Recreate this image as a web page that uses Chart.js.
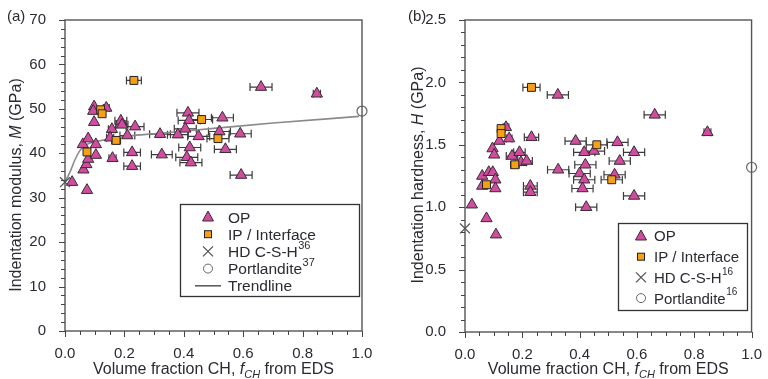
<!DOCTYPE html>
<html>
<head>
<meta charset="utf-8">
<script src="https://cdn.jsdelivr.net/npm/chart.js@4.4.1/dist/chart.umd.min.js"></script>
<style>
  html, body { margin: 0; padding: 0; background: #fff; }
  #wrap { position: relative; width: 768px; height: 379px; overflow: hidden; }
  .panel { position: absolute; top: 0; width: 384px; height: 379px; }
  #pa { left: 0; }
  #pb { left: 384px; }
</style>
</head>
<body>
<div id="wrap">
  <div class="panel" id="pa"><canvas id="chartA" width="384" height="379"></canvas></div>
  <div class="panel" id="pb"><canvas id="chartB" width="384" height="379"></canvas></div>
</div>
<script>
// ---- panel (a): indentation modulus M (GPa) vs volume fraction CH ----
var opFracA = [0.024, 0.074, 0.062, 0.072, 0.078, 0.104, 0.060, 0.078, 0.104, 0.098, 0.098, 0.095, 0.139,
               0.158, 0.152, 0.188, 0.192, 0.236, 0.210, 0.160, 0.226, 0.226, 0.320, 0.326, 0.380, 0.414,
               0.418, 0.405, 0.450, 0.420, 0.410, 0.424, 0.530, 0.520, 0.590, 0.540, 0.593, 0.660, 0.848];
var opModA  = [33.5, 31.7, 36.3, 37.5, 38.7, 39.6, 42.0, 43.3, 42.0, 47.0, 50.5, 49.5, 50.2,
               45.4, 43.5, 47.3, 46.4, 46.0, 44.0, 38.9, 40.2, 37.1, 44.3, 39.7, 44.2, 49.1,
               47.4, 45.5, 43.8, 41.3, 39.1, 37.9, 48.0, 44.9, 44.4, 40.9, 35.1, 54.9, 53.4];
var opErrA  = [0, 0, 0, 0, 0, 0, 0, 0, 0, 0, 0, 0, 0.010,
               0.012, 0.012, 0.020, 0.020, 0.030, 0.025, 0.012, 0.028, 0.028, 0.035, 0.035, 0.035, 0.037,
               0.037, 0.037, 0.037, 0.037, 0.037, 0.037, 0.037, 0.037, 0.037, 0.037, 0.037, 0.037, 0.012];

var ipFracA = [0.074, 0.120, 0.125, 0.172, 0.232, 0.460, 0.515];
var ipModA  = [40.3, 49.8, 48.9, 42.9, 56.4, 47.6, 43.3];
var ipErrA  = [0, 0, 0, 0.015, 0.025, 0.037, 0.037];

var hdFracA = [0.0];
var hdModA  = [33.5];
var chFracA = [1.0];
var chModA  = [49.5];

var trendFrac = [0.0, 0.017, 0.034, 0.05, 0.074, 0.11, 0.19, 0.30, 0.50, 0.70, 0.99];
var trendMod  = [33.5, 35.8, 38.6, 40.6, 42.0, 42.7, 43.7, 44.4, 45.6, 46.8, 48.3];

// ---- panel (b): indentation hardness H (GPa) vs volume fraction CH ----
var opFracB = [0.024, 0.075, 0.108, 0.060, 0.083, 0.097, 0.106, 0.060, 0.106, 0.096, 0.102, 0.120, 0.143,
               0.154, 0.232, 0.164, 0.190, 0.195, 0.215, 0.228, 0.228, 0.325, 0.324, 0.386, 0.450, 0.416,
               0.532, 0.590, 0.420, 0.540, 0.400, 0.416, 0.522, 0.410, 0.590, 0.423, 0.662, 0.846];
var opHardB = [1.02, 0.91, 0.78, 1.25, 1.28, 1.28, 1.22, 1.17, 1.15, 1.47, 1.42, 1.53, 1.64,
               1.55, 1.56, 1.41, 1.44, 1.36, 1.37, 1.17, 1.12, 1.30, 1.90, 1.53, 1.45, 1.44,
               1.52, 1.44, 1.34, 1.37, 1.27, 1.22, 1.26, 1.15, 1.09, 1.00, 1.74, 1.60];
var opErrB  = [0, 0, 0, 0, 0, 0, 0, 0, 0, 0, 0, 0, 0.010,
               0.010, 0.025, 0.020, 0.020, 0.020, 0.020, 0.024, 0.024, 0.037, 0.037, 0.037, 0.037, 0.037,
               0.037, 0.037, 0.037, 0.037, 0.037, 0.037, 0.037, 0.037, 0.037, 0.037, 0.037, 0.012];

var ipFracB = [0.075, 0.126, 0.126, 0.174, 0.232, 0.460, 0.512];
var ipHardB = [1.18, 1.63, 1.59, 1.34, 1.96, 1.50, 1.22];
var ipErrB  = [0, 0, 0, 0.015, 0.030, 0.037, 0.037];

var hdFracB = [0.0];
var hdHardB = [0.83];
var chFracB = [1.0];
var chHardB = [1.32];

var xTicks = [0.0, 0.2, 0.4, 0.6, 0.8, 1.0];

var TXT = '#2a2a33';
var FONT = '"Liberation Sans", Arial, sans-serif';
var PINK = '#d04c9e';
var ORANGE = '#f5a016';

function pts(xs, ys) {
    return xs.map(function (v, i) { return { x: v, y: ys[i] }; });
}

// horizontal error bars, drawn under the markers
var errorBars = {
    id: 'errorBars',
    beforeDatasetsDraw: function (chart) {
        var ctx = chart.ctx, x = chart.scales.x, y = chart.scales.y;
        ctx.save();
        ctx.strokeStyle = '#3c3c3c';
        ctx.lineWidth = 1.2;
        chart.data.datasets.forEach(function (ds) {
            if (!ds.xErr) return;
            ds.data.forEach(function (p, i) {
                var e = ds.xErr[i];
                if (!e) return;
                var x0 = x.getPixelForValue(p.x - e), x1 = x.getPixelForValue(p.x + e), py = y.getPixelForValue(p.y);
                ctx.beginPath();
                ctx.moveTo(x0, py); ctx.lineTo(x1, py);
                ctx.moveTo(x0, py - 4); ctx.lineTo(x0, py + 4);
                ctx.moveTo(x1, py - 4); ctx.lineTo(x1, py + 4);
                ctx.stroke();
            });
        });
        ctx.restore();
    }
};

function drawParts(ctx, parts, x, y) {
    // parts: [text, font, dy]
    var w = 0;
    parts.forEach(function (p) { ctx.font = p[1]; w += ctx.measureText(p[0]).width; });
    var cx = x - w / 2;
    parts.forEach(function (p) {
        ctx.font = p[1];
        ctx.fillText(p[0], cx, y + (p[2] || 0));
        cx += ctx.measureText(p[0]).width;
    });
}

function drawSymbol(ctx, kind, x, y) {
    ctx.save();
    ctx.lineWidth = 1;
    if (kind === 'tri') {
        ctx.fillStyle = PINK; ctx.strokeStyle = '#3a2a35';
        ctx.beginPath();
        ctx.moveTo(x, y - 6); ctx.lineTo(x + 5.5, y + 4); ctx.lineTo(x - 5.5, y + 4); ctx.closePath();
        ctx.fill(); ctx.stroke();
    } else if (kind === 'sq') {
        ctx.fillStyle = ORANGE; ctx.strokeStyle = '#222';
        ctx.fillRect(x - 3.5, y - 3.5, 7, 7); ctx.strokeRect(x - 3.5, y - 3.5, 7, 7);
    } else if (kind === 'x') {
        ctx.strokeStyle = '#555'; ctx.lineWidth = 1.3;
        ctx.beginPath();
        ctx.moveTo(x - 5, y - 5); ctx.lineTo(x + 5, y + 5);
        ctx.moveTo(x + 5, y - 5); ctx.lineTo(x - 5, y + 5);
        ctx.stroke();
    } else if (kind === 'o') {
        ctx.strokeStyle = '#666'; ctx.fillStyle = '#fff';
        ctx.beginPath(); ctx.arc(x, y, 4.5, 0, Math.PI * 2); ctx.fill(); ctx.stroke();
    } else if (kind === 'line') {
        ctx.strokeStyle = '#555'; ctx.lineWidth = 1.5;
        ctx.beginPath(); ctx.moveTo(x - 13, y); ctx.lineTo(x + 13, y); ctx.stroke();
    }
    ctx.restore();
}

// frame, outward ticks, axis titles, panel label and legend
var decor = {
    id: 'decor',
    afterDraw: function (chart, args, o) {
        var ctx = chart.ctx, a = chart.chartArea, x = chart.scales.x, y = chart.scales.y;
        ctx.save();
        ctx.strokeStyle = '#555';
        ctx.lineWidth = 1.4;
        ctx.strokeRect(a.left, a.top, a.right - a.left, a.bottom - a.top);

        ctx.lineWidth = 1;
        ctx.strokeStyle = '#444';
        ctx.beginPath();
        var i, v, px;
        for (i = 0; i <= 20; i++) {
            v = i * 0.05;
            px = Math.round(x.getPixelForValue(v)) + 0.5;
            ctx.moveTo(px, a.bottom); ctx.lineTo(px, a.bottom + (i % 4 === 0 ? 6 : 4));
        }
        var n = Math.round(o.yMax / o.yMinor);
        for (i = 0; i <= n; i++) {
            v = i * o.yMinor;
            px = Math.round(y.getPixelForValue(v)) + 0.5;
            ctx.moveTo(a.left, px); ctx.lineTo(a.left - (i % o.yEvery === 0 ? 6 : 4), px);
        }
        ctx.stroke();

        ctx.fillStyle = TXT;
        ctx.textBaseline = 'alphabetic';
        // x title
        var cx = (a.left + a.right) / 2;
        drawParts(ctx, [
            ['Volume fraction CH, ', '16px ' + FONT],
            ['f', 'italic 16px ' + FONT],
            ['CH', 'italic 11px ' + FONT, 4],
            [' from EDS', '16px ' + FONT]
        ], cx, 374);
        // y title
        ctx.save();
        ctx.translate(o.yTitleX, o.yTitleY);
        ctx.rotate(-Math.PI / 2);
        drawParts(ctx, [
            [o.yTitle[0], '16px ' + FONT],
            [o.yTitle[1], 'italic 16px ' + FONT],
            [o.yTitle[2], '16px ' + FONT]
        ], 0, 6);
        ctx.restore();
        // panel label
        ctx.font = '15px ' + FONT;
        ctx.textAlign = 'left';
        ctx.fillText(o.label, o.labelX, 21);

        // legend
        var L = o.legend;
        ctx.strokeStyle = '#333';
        ctx.lineWidth = 1.3;
        ctx.strokeRect(L.x0 + 0.5, L.y0 + 0.5, L.x1 - L.x0, L.y1 - L.y0);
        L.items.forEach(function (it, k) {
            var yy = L.first + k * L.step;
            drawSymbol(ctx, it[0], L.symX, yy);
            ctx.fillStyle = TXT;
            ctx.font = L.size + 'px ' + FONT;
            ctx.fillText(it[1], L.txtX, yy + L.size * 0.36);
            if (it[2]) {
                var w = ctx.measureText(it[1]).width;
                ctx.font = Math.round(L.size * 0.68) + 'px ' + FONT;
                ctx.fillText(it[2], L.txtX + w + 0.5, yy - L.size * 0.18);
            }
        });
        ctx.restore();
    }
};

function makeChart(id, cfg) {
    return new Chart(document.getElementById(id), {
        type: 'scatter',
        data: {
            datasets: cfg.datasets
        },
        options: {
            responsive: false,
            animation: false,
            devicePixelRatio: 1,
            layout: { padding: { left: 0, right: cfg.padRight, top: cfg.padTop, bottom: 0 } },
            plugins: {
                legend: { display: false },
                tooltip: { enabled: false },
                decor: cfg.decor
            },
            scales: {
                x: {
                    type: 'linear', min: 0, max: 1,
                    afterBuildTicks: function (s) { s.ticks = xTicks.map(function (v) { return { value: v }; }); },
                    afterFit: function (s) { s.height = cfg.xHeight; },
                    grid: { display: false },
                    border: { display: false },
                    ticks: {
                        padding: 6, color: TXT, font: { family: FONT, size: 15 },
                        maxRotation: 0,
                        callback: function (v) { return Number(v).toFixed(1); }
                    }
                },
                y: {
                    type: 'linear', min: 0, max: cfg.yMax,
                    afterFit: function (s) { s.width = cfg.yWidth; },
                    grid: { display: false },
                    border: { display: false },
                    ticks: {
                        stepSize: cfg.yStep, padding: 11, color: TXT, font: { family: FONT, size: 15 },
                        callback: cfg.yFmt
                    }
                }
            }
        },
        plugins: [errorBars, decor]
    });
}

function panelSets(opF, opV, opE, ipF, ipV, ipE, hdF, hdV, chF, chV, trend) {
    var sets = [];
    if (trend) {
        sets.push({
            data: pts(trend[0], trend[1]), showLine: true, pointRadius: 0,
            borderColor: '#8a8a8a', borderWidth: 1.6, cubicInterpolationMode: 'monotone',
            order: 10, clip: false
        });
    }
    sets.push({
        data: pts(opF, opV), xErr: opE, pointStyle: 'triangle', pointRadius: 6.5,
        backgroundColor: PINK, borderColor: '#3a2a35', borderWidth: 1, order: 2, clip: false
    });
    sets.push({
        data: pts(ipF, ipV), xErr: ipE, pointStyle: 'rect', pointRadius: 5.6,
        backgroundColor: ORANGE, borderColor: '#222', borderWidth: 1, order: 1, clip: false
    });
    sets.push({
        data: pts(hdF, hdV), pointStyle: 'crossRot', pointRadius: 7,
        borderColor: '#555', borderWidth: 1.3, order: 1, clip: false
    });
    sets.push({
        data: pts(chF, chV), pointStyle: 'circle', pointRadius: 5,
        backgroundColor: '#fff', borderColor: '#666', borderWidth: 1.2, order: 1, clip: false
    });
    return sets;
}

makeChart('chartA', {
    datasets: panelSets(opFracA, opModA, opErrA, ipFracA, ipModA, ipErrA, hdFracA, hdModA, chFracA, chModA, [trendFrac, trendMod]),
    yMax: 70, yStep: 10, yWidth: 65, xHeight: 48, padRight: 22, padTop: 16,
    yFmt: function (v) { return String(v); },
    decor: {
        yMax: 70, yMinor: 2, yEvery: 5,
        yTitle: ['Indentation modulus, ', 'M', ' (GPa)'], yTitleX: 15, yTitleY: 185,
        label: '(a)', labelX: 7,
        legend: {
            x0: 180, y0: 204, x1: 359, y1: 296, symX: 208, txtX: 228, first: 217, step: 17.2, size: 15.5,
            items: [['tri', 'OP'], ['sq', 'IP / Interface'], ['x', 'HD C-S-H', '36'], ['o', 'Portlandite', '37'], ['line', 'Trendline']]
        }
    }
});

makeChart('chartB', {
    datasets: panelSets(opFracB, opHardB, opErrB, ipFracB, ipHardB, ipErrB, hdFracB, hdHardB, chFracB, chHardB, null),
    yMax: 2.5, yStep: 0.5, yWidth: 81, xHeight: 47, padRight: 10, padTop: 15,
    yFmt: function (v) { return Number(v).toFixed(1); },
    decor: {
        yMax: 2.5, yMinor: 0.1, yEvery: 5,
        yTitle: ['Indentation hardness, ', 'H', ' (GPa)'], yTitleX: 33, yTitleY: 175,
        label: '(b)', labelX: 24,
        legend: {
            x0: 234, y0: 223, x1: 363, y1: 310, symX: 257, txtX: 270, first: 236, step: 20.7, size: 15,
            items: [['tri', 'OP'], ['sq', 'IP / Interface'], ['x', 'HD C-S-H', '16'], ['o', 'Portlandite', '16']]
        }
    }
});
</script>
</body>
</html>
